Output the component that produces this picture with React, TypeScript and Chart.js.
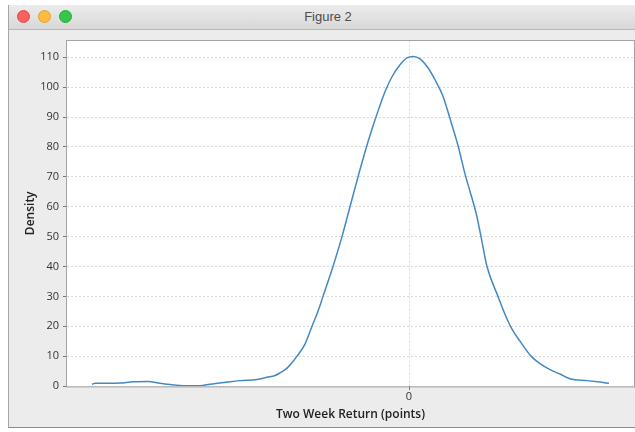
import React, { useEffect, useRef } from "react";
import { Chart, registerables } from "chart.js";

Chart.register(...registerables);

const returnPoints: number[] = [
  -31.7, -31.4, -29.9, -28.9, -27.6, -26.1, -24.9, -23.9, -22.9, -20.9, -19.9, -18.2, -16.9, -15.2, -14.2,
  -13.4, -12.9, -12.2, -11.7, -11.2, -10.4, -9.7, -9.1, -8.6, -7.6, -6.7, -5.9, -5.1, -4.3, -3.6, -3.0,
  -2.4, -1.7, -0.9, -0.2, 0.4, 1.1, 1.9, 2.6, 3.4, 4.1, 4.9, 5.6, 6.2, 6.7, 7.2, 7.8, 8.9, 9.6, 10.3,
  11.1, 12.2, 13.1, 14.1, 15.1, 16.1, 17.8, 19.1, 20.0,
];
const density: number[] = [
  0.6, 0.9, 0.9, 1.0, 1.4, 1.5, 0.9, 0.5, 0.2, 0.1, 0.6, 1.3, 1.8, 2.2, 2.9,
  3.5, 4.4, 6, 7.8, 10, 14, 20, 25, 30, 40, 50, 60, 70, 79.5, 87, 93,
  98.5, 103.5, 107.5, 109.8, 110.3, 109.5, 106.5, 102.5, 97, 89.5, 80.5, 71, 64, 58, 50, 40, 30, 24, 19,
  15, 10, 7.5, 5.5, 4, 2.4, 1.8, 1.3, 0.9,
];
const xTickValues: number[] = [0];
const yTickValues: number[] = [0, 10, 20, 30, 40, 50, 60, 70, 80, 90, 100, 110];
const xTitle = "Two Week Return (points)";
const yTitle = "Density";
const windowTitle = "Figure 2";

const plotBg = {
  id: "plotBg",
  beforeDraw(chart: any) {
    const { ctx, chartArea: a } = chart;
    ctx.save();
    ctx.fillStyle = "#ffffff";
    ctx.fillRect(a.left, a.top, a.right - a.left, a.bottom - a.top);
    ctx.restore();
  },
  afterDraw(chart: any) {
    const { ctx, chartArea: a } = chart;
    ctx.save();
    ctx.strokeStyle = "#a4a4a4";
    ctx.lineWidth = 1;
    ctx.strokeRect(Math.round(a.left) - 0.5, Math.round(a.top) - 0.5, a.right - a.left + 1, a.bottom - a.top + 1);
    ctx.restore();
  },
};

function DensityChart() {
  const ref = useRef<HTMLCanvasElement | null>(null);
  useEffect(() => {
    if (!ref.current) return;
    const tickFont = { family: "'Open Sans', sans-serif", size: 11 };
    const chart = new Chart(ref.current, {
      type: "line",
      data: {
        datasets: [
          {
            data: returnPoints.map((x, i) => ({ x, y: density[i] })),
            borderColor: "#4289c3",
            borderWidth: 1.5,
            pointRadius: 0,
            fill: false,
            cubicInterpolationMode: "monotone",
          },
        ],
      },
      options: {
        animation: false,
        responsive: false,
        maintainAspectRatio: false,
        layout: { padding: { left: 0, right: 1, top: 8, bottom: 0 } },
        plugins: { legend: { display: false }, tooltip: { enabled: false } },
        scales: {
          x: {
            type: "linear",
            min: -34.2,
            max: 22.5,
            afterBuildTicks: (s: any) => {
              s.ticks = xTickValues.map((v) => ({ value: v }));
            },
            afterFit: (s: any) => {
              s.height = 41;
            },
            ticks: { font: tickFont, color: "#333", padding: 0, autoSkip: false, maxRotation: 0 },
            grid: { color: "#d8d8d8", tickColor: "#777", tickLength: 4 },
            border: { display: false, dash: [2, 2] },
            title: {
              display: true,
              text: xTitle,
              font: { family: "'Open Sans', sans-serif", size: 12, weight: 600 },
              color: "#222",
              padding: { top: 0, bottom: 5 },
            },
          },
          y: {
            type: "linear",
            min: 0,
            max: 115.6,
            afterBuildTicks: (s: any) => {
              s.ticks = yTickValues.map((v) => ({ value: v }));
            },
            afterFit: (s: any) => {
              s.width = 58;
            },
            ticks: { font: tickFont, color: "#333", padding: 4, autoSkip: false },
            grid: { color: "#d8d8d8", tickColor: "#777", tickLength: 4 },
            border: { display: false, dash: [2, 2] },
            title: {
              display: true,
              text: yTitle,
              font: { family: "'Open Sans', sans-serif", size: 12, weight: 600 },
              color: "#222",
              padding: { top: 14, bottom: 4 },
            },
          },
        },
      },
      plugins: [plotBg],
    });
    return () => chart.destroy();
  }, []);
  return <canvas ref={ref} width={626} height={397} style={{ display: "block", width: 626, height: 397 }} />;
}

export default function App() {
  const dot = (c: string, b: string, left: number) => (
    <div
      style={{
        position: "absolute",
        left,
        top: 5,
        width: 13,
        height: 13,
        borderRadius: "50%",
        background: c,
        boxSizing: "border-box",
        border: `0.5px solid ${b}`,
      }}
    />
  );
  return (
    <div
      style={{
        position: "absolute",
        left: 8,
        top: 5,
        width: 627,
        height: 423,
        boxSizing: "border-box",
        borderLeft: "1px solid #a6a6a6",
        borderBottom: "1px solid #8c8c8c",
        background: "#ececec",
        fontFamily: "'Liberation Sans', Arial, sans-serif",
      }}
    >
      <div
        style={{
          position: "relative",
          height: 25,
          boxSizing: "border-box",
          borderBottom: "1px solid #b8b8b8",
          background: "linear-gradient(#ececec, #d8d8d8)",
        }}
      >
        {dot("#fc605c", "#de4a45", 8)}
        {dot("#fdbc40", "#dea236", 29)}
        {dot("#34c84a", "#27a93a", 50)}
        <div
          style={{
            position: "absolute",
            left: 12,
            right: 0,
            top: 4,
            textAlign: "center",
            fontSize: 13,
            color: "#4d4d4d",
          }}
        >
          {windowTitle}
        </div>
      </div>
      <DensityChart />
    </div>
  );
}
